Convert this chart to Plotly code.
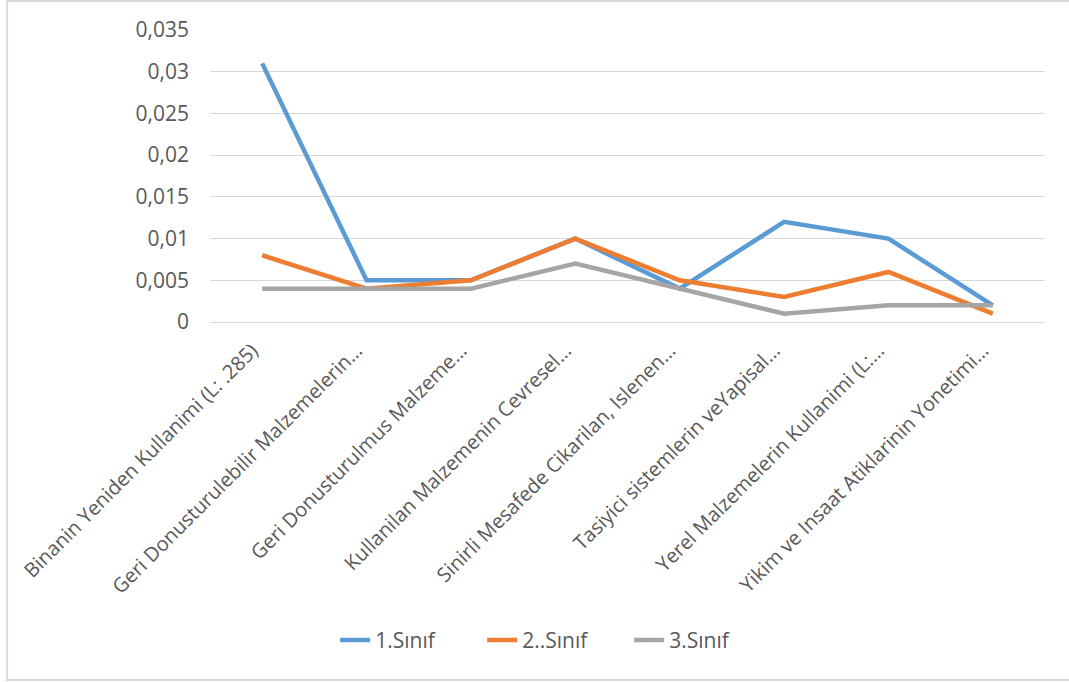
import plotly.graph_objects as go

categories = [
    "Binanin Yeniden Kullanimi (L: .285)",
    "Geri Donusturulebilir Malzemelerin…",
    "Geri Donusturulmus Malzeme…",
    "Kullanilan Malzemenin Cevresel…",
    "Sinirli Mesafede Cikarilan, Islenen…",
    "Tasiyici sistemlerin veYapisal…",
    "Yerel Malzemelerin Kullanimi (L:…",
    "Yikim ve Insaat Atiklarinin Yonetimi…",
]
sinif1 = [0.031, 0.005, 0.005, 0.010, 0.004, 0.012, 0.010, 0.002]
sinif2 = [0.008, 0.004, 0.005, 0.010, 0.005, 0.003, 0.006, 0.001]
sinif3 = [0.004, 0.004, 0.004, 0.007, 0.004, 0.001, 0.002, 0.002]
y_ticks = [0, 0.005, 0.01, 0.015, 0.02, 0.025, 0.03, 0.035]
y_tick_labels = ["0", "0,005", "0,01", "0,015", "0,02", "0,025", "0,03", "0,035"]

series = [
    ("1.Sınıf", sinif1, "#5B9BD5"),
    ("2..Sınıf", sinif2, "#ED7D31"),
    ("3.Sınıf", sinif3, "#A5A5A5"),
]

fig = go.Figure()
for name, vals, color in series:
    fig.add_trace(go.Scatter(
        x=categories, y=vals, name=name, mode="lines",
        line=dict(color=color, width=4.5),
    ))

font_family = "'Open Sans', sans-serif"
fig.update_layout(
    width=1069, height=682,
    margin=dict(l=210, r=24, t=30, b=360),
    paper_bgcolor="white", plot_bgcolor="white",
    font=dict(family=font_family, size=20, color="#595959"),
    showlegend=True,
    legend=dict(orientation="h", x=0.414, xanchor="center", y=-1.09, yanchor="middle",
                font=dict(size=21, color="#595959"), itemwidth=30,
                entrywidth=102, entrywidthmode="pixels",
                tracegroupgap=0),
    xaxis=dict(
        type="category", tickangle=-45, showgrid=False, showline=False,
        ticks="", tickfont=dict(size=20, color="#595959"),
        ticklabelstandoff=12, ticklabelshift=-10,
        range=[-0.5, len(categories) - 0.5],
    ),
    yaxis=dict(
        range=[0, 0.035], tickvals=y_ticks, ticktext=y_tick_labels,
        showgrid=True, gridcolor="#D9D9D9", gridwidth=1.3,
        zeroline=True, zerolinecolor="#D9D9D9", zerolinewidth=1.3,
        showline=False, ticks="", ticklen=0, ticklabelstandoff=20,
        tickfont=dict(size=21, color="#595959"),
    ),
    shapes=[
        dict(type="rect", xref="paper", yref="paper",
             x0=-0.243, x1=1.05, y0=-1.226, y1=1.099,
             line=dict(color="#D9D9D9", width=2), fillcolor="rgba(0,0,0,0)", layer="below"),
    ],
)

fig.write_html("out.html")
